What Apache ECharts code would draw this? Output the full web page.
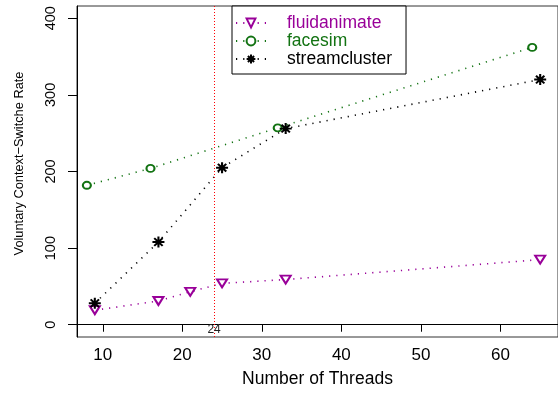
<!DOCTYPE html>
<html>
<head>
<meta charset="utf-8">
<script src="https://cdn.jsdelivr.net/npm/echarts@6/dist/echarts.min.js"></script>
<style>html,body{margin:0;padding:0;background:#fff;}#c{width:558px;height:393px;}</style>
</head>
<body>
<div id="c"></div>
<script>
// ---- data ----
var fluidThreads = [9, 17, 21, 25, 33, 65];
var fluidValues  = [19, 31, 43, 54, 59, 85];
var faceThreads  = [8, 16, 32, 64];
var faceValues   = [182, 204, 257, 362];
var streamThreads = [9, 17, 25, 33, 65];
var streamValues  = [28, 108, 205, 256, 320];
var xTicks = [10, 20, 30, 40, 50, 60];
var yTicks = [0, 100, 200, 300, 400];
var markThread = 24;
var seriesNames = ['fluidanimate', 'facesim', 'streamcluster'];

var purple = '#990099', green = '#137313', black = '#000000';
var font = 'Liberation Sans, Arial, Helvetica, sans-serif';
function pairs(xs, ys) { return xs.map(function (x, i) { return [x, ys[i]]; }); }
var dotted = [1.2, 6];
var asterisk = 'path://M0,-10L0,10M-10,0L10,0M-7,-7L7,7M-7,7L7,-7';

var chart = echarts.init(document.getElementById('c'), null, {renderer: 'canvas'});
chart.setOption({
  animation: false,
  backgroundColor: '#ffffff',
  grid: {left: 77, top: 6, right: -3, bottom: 53, show: true, borderColor: '#333', borderWidth: 1, containLabel: false},
  legend: {
    orient: 'vertical', left: 232, top: 6,
    backgroundColor: '#fff', borderColor: '#000', borderWidth: 1,
    padding: [8, 14, 6, 3], itemGap: 0, itemWidth: 30, itemHeight: 11,
    textStyle: {fontFamily: font, fontSize: 17.5, padding: [0, 0, 0, 16], lineHeight: 17},
    data: [
      {name: seriesNames[0], textStyle: {color: purple}},
      {name: seriesNames[1], textStyle: {color: green}},
      {name: seriesNames[2], textStyle: {color: black}}
    ]
  },
  xAxis: {
    type: 'value', min: 6.76, max: 67.24,
    name: 'Number of Threads', nameLocation: 'middle', nameGap: 33,
    nameTextStyle: {fontFamily: font, fontSize: 17.5, color: '#000'},
    splitLine: {show: false},
    axisLine: {show: true, lineStyle: {color: '#000', width: 1}},
    axisTick: {show: true, length: 7, lineStyle: {color: '#000'}, customValues: xTicks},
    axisLabel: {fontFamily: font, fontSize: 17, color: '#000', margin: 10, customValues: xTicks}
  },
  yAxis: {
    type: 'value', min: -16, max: 416,
    name: 'Voluntary Context\u2212Switche Rate', nameLocation: 'middle', nameGap: 51,
    nameTextStyle: {fontFamily: font, fontSize: 12.8, color: '#000', padding: [0, 0, 0, 16]},
    splitLine: {show: false},
    axisLine: {show: true, lineStyle: {color: '#000', width: 1}},
    axisTick: {show: true, length: 9, lineStyle: {color: '#000'}, customValues: yTicks},
    axisLabel: {fontFamily: font, fontSize: 14.5, color: '#000', margin: 19, rotate: 90, customValues: yTicks}
  },
  series: [
    {
      name: seriesNames[0], type: 'line', data: pairs(fluidThreads, fluidValues),
      symbol: 'emptyTriangle', symbolRotate: 180, symbolSize: [10, 8],
      itemStyle: {color: purple, borderColor: purple, borderWidth: 2},
      lineStyle: {color: purple, width: 1.6, type: dotted},
      markLine: {
        silent: true, symbol: 'none',
        lineStyle: {color: '#ff0000', width: 1, type: [1, 2]},
        label: {show: true, position: 'start', distance: -13, formatter: String(markThread), color: '#222', fontFamily: font, fontSize: 12},
        data: [{xAxis: markThread}]
      },
      z: 3
    },
    {
      name: seriesNames[1], type: 'line', data: pairs(faceThreads, faceValues),
      symbol: 'emptyCircle', symbolSize: [8, 7],
      itemStyle: {color: green, borderColor: green, borderWidth: 2},
      lineStyle: {color: green, width: 1.6, type: dotted},
      z: 2
    },
    {
      name: seriesNames[2], type: 'line', data: pairs(streamThreads, streamValues),
      symbol: asterisk, symbolSize: [12, 11],
      itemStyle: {color: black, borderColor: black, borderWidth: 2},
      lineStyle: {color: black, width: 1.6, type: dotted},
      z: 4
    }
  ]
});
</script>
</body>
</html>
